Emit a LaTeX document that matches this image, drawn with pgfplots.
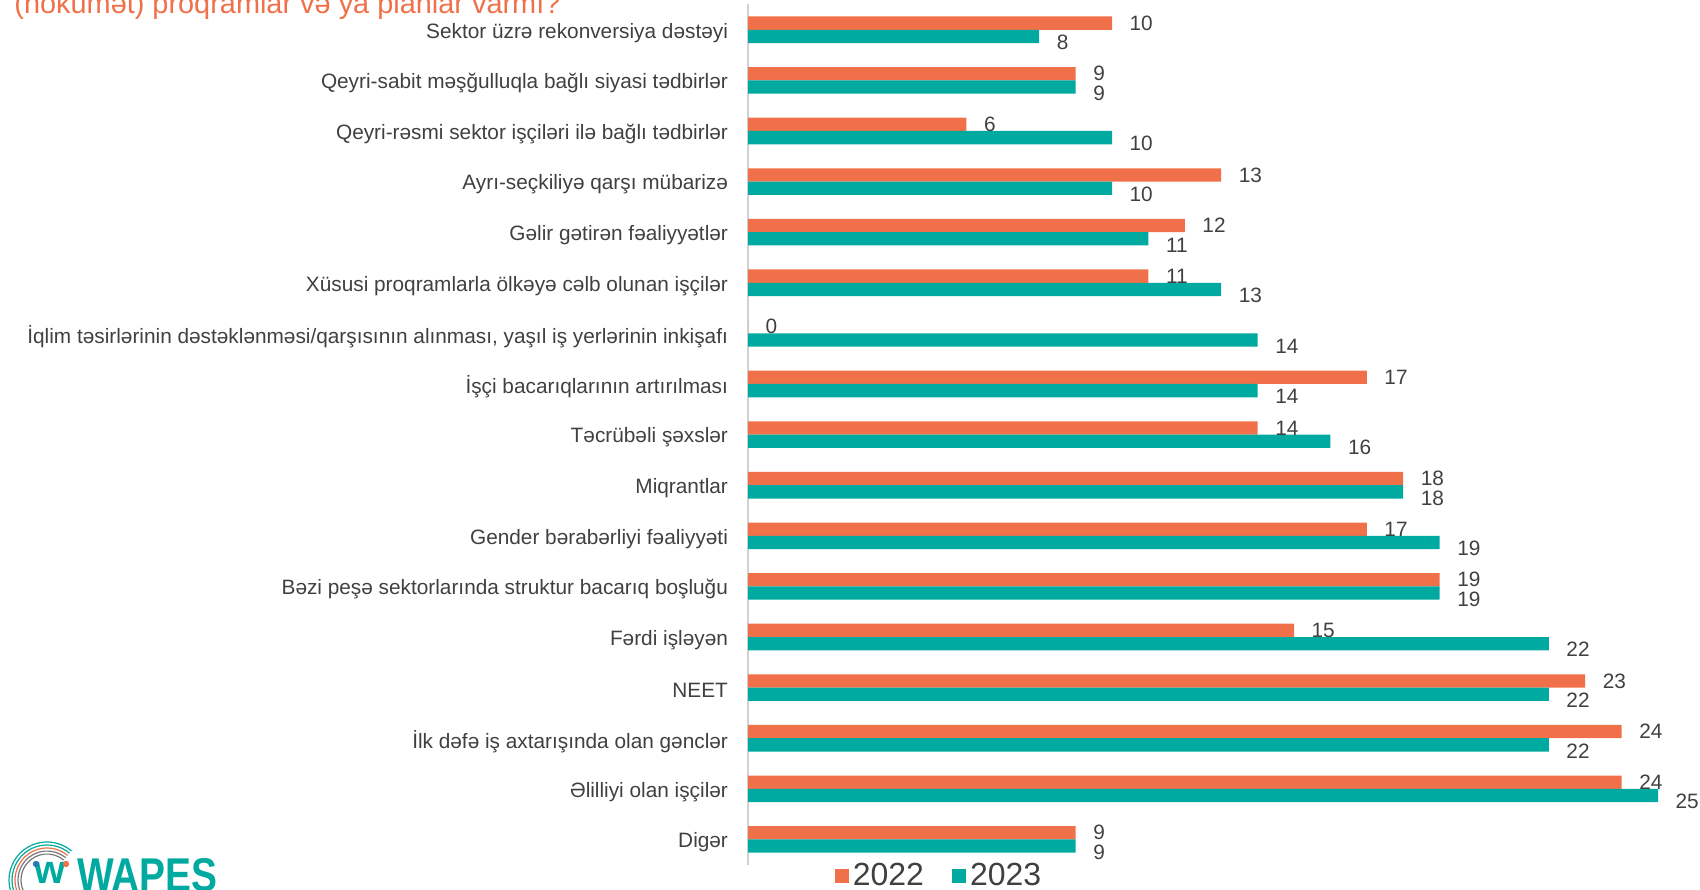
\documentclass[border=0pt]{standalone}
\usepackage{pgfplots}
\pgfplotsset{compat=1.18}
\usepackage{pgfplotstable}
\usepackage{fontspec}
\setmainfont{Liberation Sans}
\definecolor{or22}{RGB}{240,112,74}
\definecolor{te23}{RGB}{0,170,160}
\definecolor{txt}{RGB}{64,64,64}
\definecolor{logogray}{RGB}{120,120,120}
\definecolor{logoblue}{RGB}{40,120,180}

% y: 16 = top category, 0 = bottom
\pgfplotstableread{
y  a  b
16 10 8
15 9  9
14 6  10
13 13 10
12 12 11
11 11 13
10 0  14
9  17 14
8  14 16
7  18 18
6  17 19
5  19 19
4  15 22
3  23 22
2  24 22
1  24 25
0  9  9
}\datatable

\begin{document}
\begin{tikzpicture}
\useasboundingbox (0,0) rectangle (850pt,444.5pt);
\begin{axis}[
    at={(374pt,12.15pt)}, anchor=south west,
    scale only axis, width=455pt, height=430.1pt,
    xbar, bar width=6.65pt,
    xmin=0, xmax=25, ymin=-0.5, ymax=16.5,
    clip=false,
    axis x line=none,
    axis y line*=left,
    y axis line style={draw=black!18, line width=1pt},
    major tick length=0pt,
    ytick={0,...,16},
    yticklabels={Digər, Əlilliyi olan işçilər, İlk dəfə iş axtarışında olan gənclər, NEET, Fərdi işləyən, Bəzi peşə sektorlarında struktur bacarıq boşluğu, Gender bərabərliyi fəaliyyəti, Miqrantlar, Təcrübəli şəxslər, İşçi bacarıqlarının artırılması, {İqlim təsirlərinin dəstəklənməsi/qarşısının alınması, yaşıl iş yerlərinin inkişafı}, Xüsusi proqramlarla ölkəyə cəlb olunan işçilər, Gəlir gətirən fəaliyyətlər, Ayrı-seçkiliyə qarşı mübarizə, Qeyri-rəsmi sektor işçiləri ilə bağlı tədbirlər, Qeyri-sabit məşğulluqla bağlı siyasi tədbirlər, Sektor üzrə rekonversiya dəstəyi},
    yticklabel style={font=\fontsize{10.4}{12}\selectfont, text=txt, xshift=-6.5pt, yshift=-1.5pt},
    /pgf/number format/assume math mode=true,
    nodes near coords,
    nodes near coords align=horizontal,
    every node near coord/.append style={font=\fontsize{10.4}{12}\selectfont, text=txt, anchor=west, xshift=5.3pt},
    legend columns=2,
    legend style={at={(0.211,-0.0131)}, anchor=center, draw=none, fill=none,
        font=\fontsize{16}{18}\selectfont, text=txt,
        /tikz/every even column/.append style={column sep=12pt}},
    legend image code/.code={\fill[#1] (0pt,-3.5pt) rectangle (7pt,3.5pt);},
]
\addplot[fill=or22, draw=none, bar shift=3.325pt,
    every node near coord/.append style={yshift=0pt}] table[x=a, y=y] {\datatable};
\addplot[fill=te23, draw=none, bar shift=-3.325pt,
    every node near coord/.append style={yshift=-3pt}] table[x=b, y=y] {\datatable};
\legend{2022, 2023}
\end{axis}

% title (cut by the top edge, as in the source)
\node[anchor=base west, inner sep=0pt, text=or22, font=\fontsize{14.45}{16}\selectfont]
    at (7pt,437.8pt) {(hökumət) proqramlar və ya planlar varmı?};

% WAPES logo
\foreach \r/\c in {19/te23, 17.5/te23, 16/or22, 14.5/logogray, 13/logogray}
    \draw[\c, line width=0.6pt] (23.5pt,4.5pt) ++(50:\r pt) arc[start angle=50, end angle=205, radius=\r pt];
\node[anchor=base, inner sep=0pt, text=te23, font=\bfseries\fontsize{20}{20}\selectfont] at (25pt,3pt) {w};
\fill[logoblue] (18pt,12.5pt) circle (1.6pt);
\fill[or22] (33pt,12.5pt) circle (1.6pt);
\node[anchor=base west, inner sep=0pt, text=te23, xscale=0.82, font=\bfseries\fontsize{23.7}{24}\selectfont] at (38.5pt,-1pt) {WAPES};
\end{tikzpicture}
\end{document}
